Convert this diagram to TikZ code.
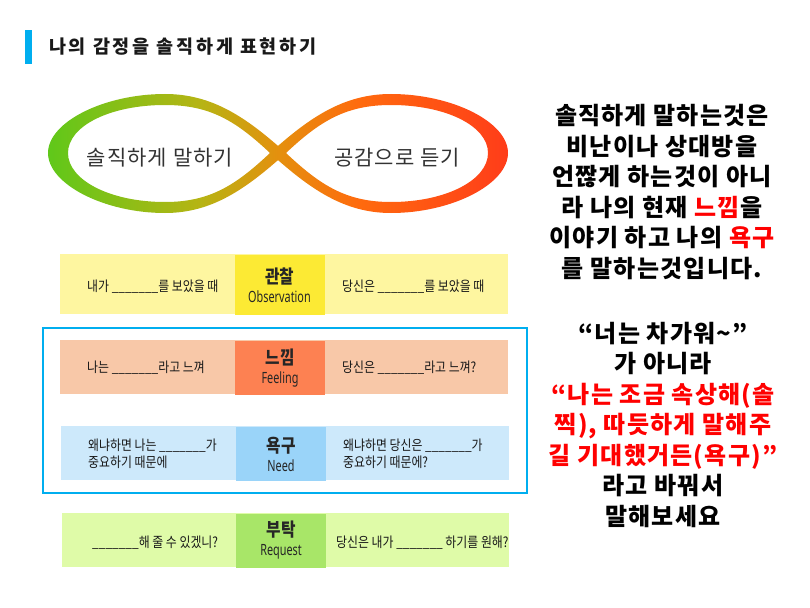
\documentclass[tikz,border=0pt]{standalone}
\usepackage{fontspec}
\setmainfont{Noto Sans CJK KR}
\newfontfamily\rowfont{Noto Sans CJK KR}[FakeStretch=0.85]
\newfontfamily\engfont{Noto Sans}[FakeStretch=0.7]
\newfontfamily\titlefont{Noto Sans CJK KR}[LetterSpace=15]
\newfontfamily\parafont{Noto Sans CJK KR}[LetterSpace=5]
\usetikzlibrary{positioning}
\definecolor{cblue}{HTML}{00AEEF}
\definecolor{infgreen}{HTML}{5BC91A}
\definecolor{infolive}{HTML}{B6B414}
\definecolor{inforange}{HTML}{E4900E}
\definecolor{infredorange}{HTML}{FF6A0E}
\definecolor{infred}{HTML}{FF3A1A}
\definecolor{textgray}{HTML}{333333}
\definecolor{obslight}{HTML}{FEF6A0}
\definecolor{obskey}{HTML}{FCEA34}
\definecolor{feellight}{HTML}{F8C8A8}
\definecolor{feelkey}{HTML}{FD8152}
\definecolor{needlight}{HTML}{CDE9FB}
\definecolor{needkey}{HTML}{9AD4F9}
\definecolor{reqlight}{HTML}{DFFBA8}
\definecolor{reqkey}{HTML}{A8E668}
\pgfdeclarehorizontalshading{infshade}{100bp}{color(0bp)=(infgreen); color(25bp)=(infgreen);
  color(41.8bp)=(infolive); color(50bp)=(inforange); color(58.6bp)=(infredorange);
  color(75bp)=(infred); color(100bp)=(infred)}
\newcommand\blank{\_\_\_\_\_\_\_}
\newcommand\keylabel[2]{{\fontsize{18.5}{19}\selectfont\bfseries #1}\\{\engfont\fontsize{15.5}{19}\selectfont #2}}

\begin{document}
\begin{tikzpicture}[x=1pt,y=-1pt,
  row node/.style={inner sep=0pt,minimum width=448pt,minimum height=54pt},
  key node/.style={inner sep=0pt,minimum width=90pt,minimum height=54pt,align=center,
    text=black!85,font=\rowfont\fontsize{14.5}{19}\selectfont},
  cue node/.style={inner sep=0pt,anchor=west,align=left,text=black!90,
    font=\rowfont\fontsize{14}{17}\selectfont},
  loop node/.style={text=textgray,font=\parafont\fontsize{21}{24}\selectfont},
  para node/.style={align=center,inner sep=0pt,font=\parafont\bfseries\fontsize{24}{30.5}\selectfont}]
  \useasboundingbox (0,0) rectangle (810,607);

  % title
  \node[fill=cblue,inner sep=0pt,minimum width=7pt,minimum height=34pt] (bar) at (28.5,47) {};
  \node[anchor=west,inner sep=0pt,text=black!90,font=\titlefont\bfseries\fontsize{18.5}{20}\selectfont] (title) at (49,47) {나의 감정을 솔직하게 표현하기};

  % infinity band
  \begin{scope}
    \clip (286,153) .. controls (246,117) and (212,94) .. (165,94)
                    .. controls (104,94) and (48,122) .. (48,153)
                    .. controls (48,184) and (104,213) .. (165,213)
                    .. controls (212,213) and (246,189) .. (286,153) -- cycle
          (270,153) .. controls (236,185) and (210,202) .. (165,202)
                    .. controls (110,202) and (68,180) .. (68,153)
                    .. controls (68,126) and (110,105) .. (165,105)
                    .. controls (210,105) and (236,121) .. (270,153) -- cycle
          (270,153) .. controls (310,189) and (344,213) .. (391,213)
                    .. controls (452,213) and (508,184) .. (508,153)
                    .. controls (508,122) and (452,94) .. (391,94)
                    .. controls (344,94) and (310,117) .. (270,153) -- cycle
          (286,153) .. controls (320,121) and (346,105) .. (391,105)
                    .. controls (446,105) and (488,126) .. (488,153)
                    .. controls (488,180) and (446,202) .. (391,202)
                    .. controls (346,202) and (320,185) .. (286,153) -- cycle;
    \shade[shading=infshade] (40,85) rectangle (516,222);
  \end{scope}
  \node[loop node] (speak) at (160,158) {솔직하게 말하기};
  \node[loop node] (listen) at (397,158) {공감으로 듣기};

  % observation
  \node[row node,fill=obslight,minimum height=60pt] (obsrow) at (284,284) {};
  \node[key node,fill=obskey,minimum height=60pt] (obskey) at (279.5,285) {\keylabel{관찰}{Observation}};
  \node[cue node] (obsme) at (87,287) {내가 \blank{}를 보았을 때};
  \node[cue node] (obsyou) at (342,287) {당신은 \blank{}를 보았을 때};

  % feeling
  \node[draw=cblue,line width=2pt,minimum width=484pt,minimum height=165pt,inner sep=0pt] (frame) at (285,410.5) {};
  \node[row node,fill=feellight] (feelrow) at (284,367) {};
  \node[key node,fill=feelkey] (feelkey) at (280,368) {\keylabel{느낌}{Feeling}};
  \node[cue node] (feelme) at (87,368) {나는 \blank{}라고 느껴};
  \node[cue node] (feelyou) at (342,368) {당신은 \blank{}라고 느껴?};

  % need
  \node[row node,fill=needlight] (needrow) at (284.5,453) {};
  \node[key node,fill=needkey] (needkey) at (281,454) {\keylabel{욕구}{Need}};
  \node[cue node] (needme) at (88,453.5) {왜냐하면 나는 \blank{}가\\중요하기 때문에};
  \node[cue node] (needyou) at (343,453.5) {왜냐하면 당신은 \blank{}가\\중요하기 때문에?};

  % request
  \node[row node,fill=reqlight,minimum width=447pt] (reqrow) at (285.5,540) {};
  \node[key node,fill=reqkey] (reqkey) at (281,540.5) {\keylabel{부탁}{Request}};
  \node[cue node] (reqme) at (92,543) {\blank{}해 줄 수 있겠니?};
  \node[cue node] (reqyou) at (336,543) {당신은 내가 \blank{} 하기를 원해?};

  % explanation
  \node[para node] (para1) at (662,192) {솔직하게 말하는것은\\비난이나 상대방을\\언짢게 하는것이 아니\\라 나의 현재 \textcolor{red}{느낌}을\\이야기 하고 나의 \textcolor{red}{욕구}\\를 말하는것입니다.};
  \node[para node] (para2) at (663,424.5) {“너는 차가워\textasciitilde”\\가 아니라\\\textcolor{red}{“나는 조금 속상해(솔}\\\textcolor{red}{찍), 따듯하게 말해주}\\\textcolor{red}{길 기대했거든(욕구)”}\\라고 바꿔서\\말해보세요};
\end{tikzpicture}
\end{document}
